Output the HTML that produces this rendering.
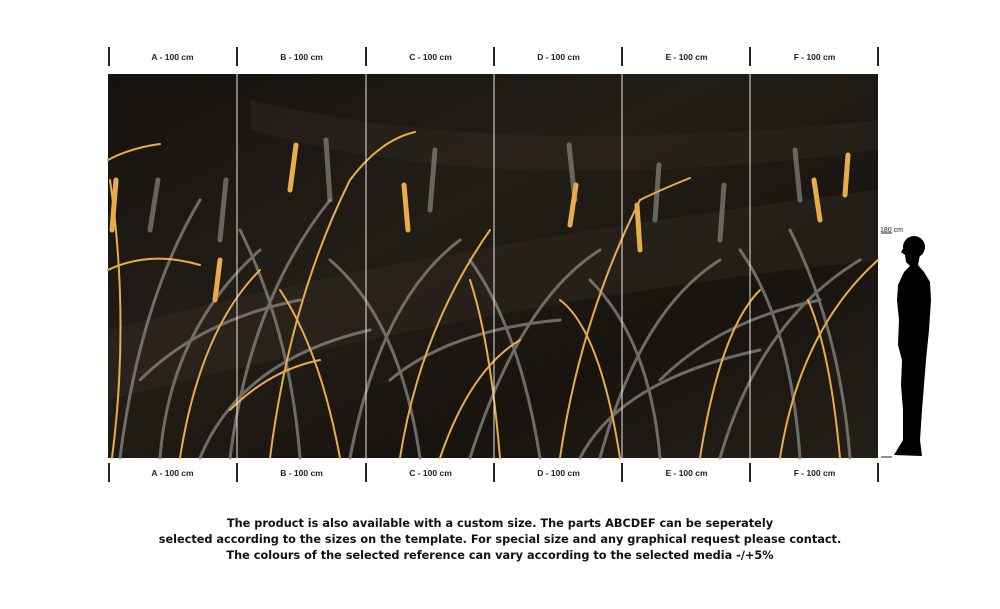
<!DOCTYPE html>
<html><head><meta charset="utf-8"><style>
html,body{margin:0;padding:0;background:#fff;width:1000px;height:609px;overflow:hidden}
.t{position:absolute;font-family:"Liberation Sans",sans-serif;font-weight:bold;font-size:8.5px;color:#222;text-align:center;width:129px}
.b{position:absolute;left:0;width:1000px;text-align:center;font-family:"DejaVu Sans",sans-serif;font-weight:bold;font-size:11.3px;color:#111;line-height:16px;top:516px}
</style></head><body>
<svg width="1000" height="609" style="position:absolute;left:0;top:0">
<defs>
<linearGradient id="bg" x1="0" y1="0" x2="1" y2="1">
<stop offset="0" stop-color="#15120f"/><stop offset="0.4" stop-color="#221d17"/><stop offset="0.7" stop-color="#17140f"/><stop offset="1" stop-color="#241f19"/></linearGradient>
</defs>
<rect x="108" y="74" width="770" height="384" fill="url(#bg)"/>
<path d="M108 330 Q400 250 878 190 L878 260 Q500 300 108 400Z" fill="#3a3227" opacity="0.35"/>
<path d="M250 100 Q500 160 878 120 L878 150 Q500 200 250 130Z" fill="#3b332a" opacity="0.3"/>
<g fill="none" stroke-linecap="round">
<g stroke="#8a8884" stroke-width="3" opacity="0.75">
<path d="M120 458 Q140 300 200 200"/><path d="M160 458 Q170 330 260 250"/><path d="M230 458 Q250 300 330 200"/>
<path d="M300 458 Q290 330 240 230"/><path d="M350 458 Q380 300 460 240"/><path d="M420 458 Q400 320 330 260"/>
<path d="M470 458 Q520 300 600 250"/><path d="M540 458 Q520 330 470 260"/><path d="M600 458 Q640 310 720 260"/>
<path d="M660 458 Q650 340 590 280"/><path d="M720 458 Q760 320 860 260"/><path d="M800 458 Q790 320 740 250"/>
<path d="M850 458 Q840 330 790 230"/><path d="M200 458 Q240 360 370 330"/><path d="M580 458 Q620 380 760 350"/>
<path d="M140 380 Q200 320 300 300"/><path d="M390 380 Q450 330 560 320"/><path d="M660 380 Q720 320 820 300"/>
</g>
<g stroke="#9a9690" stroke-width="5" opacity="0.6">
<path d="M220 240 l6 -60"/><path d="M330 200 l-4 -60"/><path d="M430 210 l5 -60"/><path d="M575 200 l-6 -55"/>
<path d="M655 220 l4 -55"/><path d="M800 200 l-5 -50"/><path d="M150 230 l8 -50"/><path d="M720 240 l4 -55"/>
</g>
<g stroke="#e8ad4a" stroke-width="2">
<path d="M112 458 Q130 320 110 180"/><path d="M180 458 Q200 330 260 270"/><path d="M108 270 Q150 250 200 265"/>
<path d="M270 458 Q290 300 350 180 Q380 140 415 132"/><path d="M340 458 Q320 350 280 290"/><path d="M400 458 Q420 330 490 230"/>
<path d="M500 458 Q490 340 470 280"/><path d="M560 458 Q580 320 640 200 Q660 190 690 178"/><path d="M620 458 Q600 330 560 300"/>
<path d="M700 458 Q720 330 760 290"/><path d="M780 458 Q800 330 878 260"/><path d="M840 458 Q830 350 808 300"/>
<path d="M108 160 Q130 148 160 144"/><path d="M440 458 Q470 370 520 340"/><path d="M230 410 Q270 370 320 360"/>
</g>
<g stroke="#e8ad4a" stroke-width="5">
<path d="M112 230 l4 -50"/><path d="M290 190 l6 -45"/><path d="M408 230 l-4 -45"/><path d="M570 225 l6 -40"/>
<path d="M640 250 l-3 -45"/><path d="M820 220 l-6 -40"/><path d="M845 195 l3 -40"/><path d="M215 300 l5 -40"/>
</g>
</g>
<g stroke="#e8e6e0" stroke-width="1"><line x1="237" y1="74" x2="237" y2="458"/><line x1="366" y1="74" x2="366" y2="458"/><line x1="494" y1="74" x2="494" y2="458"/><line x1="622" y1="74" x2="622" y2="458"/><line x1="750" y1="74" x2="750" y2="458"/></g>
<g stroke="#222" stroke-width="2">
<line x1="109" y1="47" x2="109" y2="66"/><line x1="237" y1="47" x2="237" y2="66"/><line x1="366" y1="47" x2="366" y2="66"/><line x1="494" y1="47" x2="494" y2="66"/><line x1="622" y1="47" x2="622" y2="66"/><line x1="750" y1="47" x2="750" y2="66"/><line x1="878" y1="47" x2="878" y2="66"/>
<line x1="109" y1="463" x2="109" y2="482"/><line x1="237" y1="463" x2="237" y2="482"/><line x1="366" y1="463" x2="366" y2="482"/><line x1="494" y1="463" x2="494" y2="482"/><line x1="622" y1="463" x2="622" y2="482"/><line x1="750" y1="463" x2="750" y2="482"/><line x1="878" y1="463" x2="878" y2="482"/>
</g>
<g stroke="#222" stroke-width="1"><line x1="881" y1="457" x2="892" y2="457"/><line x1="881" y1="233" x2="892" y2="233"/></g>
<circle cx="914" cy="247" r="11" fill="#000"/>
<path d="M906 244 L901 252 L905 255 L906 262 L910 266 L904 272 L898 285 L897 300 L899 320 L898 345 L902 360 L901 385 L903 410 L903 440 L894 455 L922 456 L920 440 L922 410 L924 385 L926 360 L929 330 L931 300 L930 282 L924 272 L918 265 L920 255Z" fill="#000"/>
<text x="880" y="232" font-family="Liberation Sans,sans-serif" font-size="7" fill="#222">180 cm</text>
</svg>
<div class="t" style="left:108px;top:52px">A - 100 cm</div>
<div class="t" style="left:237px;top:52px">B - 100 cm</div>
<div class="t" style="left:366px;top:52px">C - 100 cm</div>
<div class="t" style="left:494px;top:52px">D - 100 cm</div>
<div class="t" style="left:622px;top:52px">E - 100 cm</div>
<div class="t" style="left:750px;top:52px">F - 100 cm</div>
<div class="t" style="left:108px;top:468px">A - 100 cm</div>
<div class="t" style="left:237px;top:468px">B - 100 cm</div>
<div class="t" style="left:366px;top:468px">C - 100 cm</div>
<div class="t" style="left:494px;top:468px">D - 100 cm</div>
<div class="t" style="left:622px;top:468px">E - 100 cm</div>
<div class="t" style="left:750px;top:468px">F - 100 cm</div>
<div class="b">The product is also available with a custom size. The parts ABCDEF can be seperately<br>selected according to the sizes on the template. For special size and any graphical request please contact.<br>The colours of the selected reference can vary according to the selected media -/+5%</div>
</body></html>
